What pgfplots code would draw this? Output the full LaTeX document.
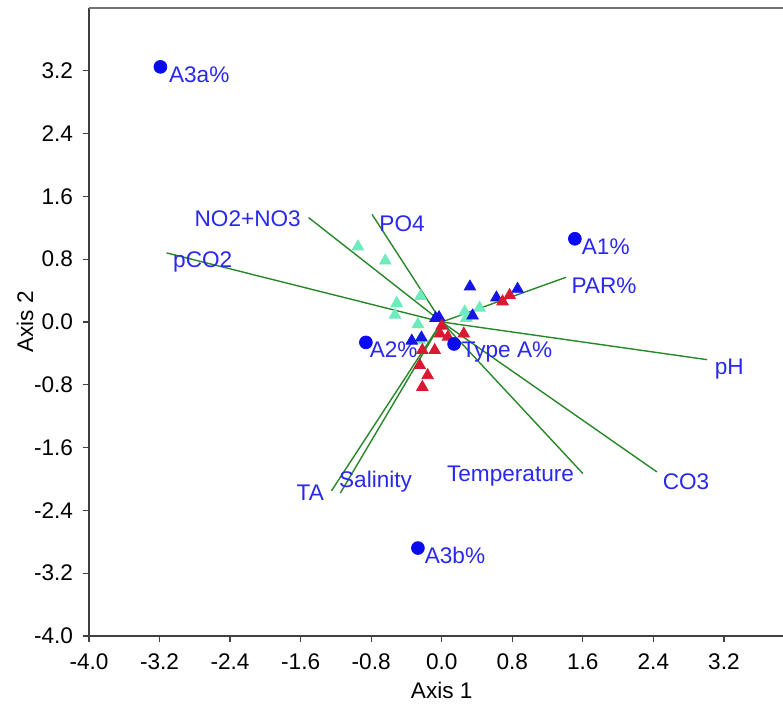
\documentclass[border=0pt]{standalone}
\usepackage{fontspec}
\setmainfont{Liberation Sans}
\usepackage{pgfplots}
\pgfplotsset{compat=1.18}
\definecolor{aquaT}{RGB}{110,235,190}
\definecolor{redT}{RGB}{215,25,50}
\definecolor{blueT}{RGB}{20,20,230}
\definecolor{blueC}{RGB}{10,10,240}
\definecolor{txtB}{RGB}{40,40,240}
\definecolor{lineG}{RGB}{40,135,40}
\begin{document}
\fontsize{11.3}{13.5}\selectfont
\begin{tikzpicture}
\begin{axis}[
  scale only axis,
  width=347pt, height=314pt,
  xmin=-4, xmax=3.87, ymin=-4, ymax=4,
  axis lines*=left,
  axis line style={-, line width=0.7pt, color=black!75},
  xtick={-4,-3.2,-2.4,-1.6,-0.8,0,0.8,1.6,2.4,3.2},
  ytick={-4,-3.2,-2.4,-1.6,-0.8,0,0.8,1.6,2.4,3.2},
  tick align=outside,
  major tick length=3pt,
  tick style={line width=0.6pt, color=black!75},
  xticklabel style={font=\fontsize{11.3}{13}\selectfont, yshift=-2pt},
  yticklabel style={font=\fontsize{11.3}{13}\selectfont, xshift=-1pt},
  /pgf/number format/assume math mode=true,
  /pgf/number format/.cd, fixed, fixed zerofill, precision=1,
  /pgfplots/.cd,
  xlabel={Axis 1}, ylabel={Axis 2},
  xlabel style={at={(axis cs:0,-4)}, anchor=center, yshift=-27pt, font=\fontsize{11.3}{13}\selectfont},
  ylabel style={at={(axis description cs:0,0.5)}, anchor=center, xshift=0pt, yshift=32pt, font=\fontsize{11.3}{13}\selectfont},
  clip=false,
]
\coordinate (sw) at (rel axis cs:0,0);
\coordinate (ne) at (rel axis cs:1,1);
\draw[line width=1pt, color=black!55] (rel axis cs:0,1) -- (rel axis cs:1,1);
% triangles
\addplot[only marks, mark=triangle*, mark size=3.3pt, color=aquaT] coordinates {
(-0.95,0.96) (-0.64,0.78) (-0.51,0.24) (-0.53,0.09) (-0.24,0.33) (-0.27,-0.03) (-0.25,-0.23) (0.26,0.13) (0.43,0.18) (0.28,0.05)};
\addplot[only marks, mark=triangle*, mark size=3.3pt, color=blueT] coordinates {
(0.32,0.45) (0.62,0.31) (0.86,0.42) (0.35,0.08) (-0.07,0.05) (-0.03,0.06) (-0.23,-0.20) (-0.34,-0.24)};
\addplot[only marks, mark=triangle*, mark size=3.3pt, color=redT] coordinates {
(0.69,0.26) (0.77,0.34) (0.0,-0.05) (-0.02,-0.15) (0.07,-0.19) (0.25,-0.15) (-0.08,-0.36) (-0.22,-0.36) (-0.25,-0.55) (-0.16,-0.68) (-0.22,-0.83)};
% vectors
\addplot[lineG, line width=0.7pt] coordinates {(0,0) (-3.12,0.88)};
\addplot[lineG, line width=0.7pt] coordinates {(0,0) (-1.51,1.33)};
\addplot[lineG, line width=0.7pt] coordinates {(0,0) (-0.79,1.37)};
\addplot[lineG, line width=0.7pt] coordinates {(0,0) (1.41,0.57)};
\addplot[lineG, line width=0.7pt] coordinates {(0,0) (3.01,-0.48)};
\addplot[lineG, line width=0.7pt] coordinates {(0,0) (2.44,-1.91)};
\addplot[lineG, line width=0.7pt] coordinates {(0,0) (1.60,-1.93)};
\addplot[lineG, line width=0.7pt] coordinates {(0,0) (-1.25,-2.15)};
\addplot[lineG, line width=0.7pt] coordinates {(0,0) (-1.15,-2.18)};
% circles
\addplot[only marks, mark=*, mark size=3.2pt, color=blueC] coordinates {
(-3.19,3.25) (1.51,1.06) (-0.86,-0.26) (0.14,-0.28) (-0.27,-2.88)};
% labels
\begin{scope}[every node/.style={text=txtB, inner sep=0pt, anchor=center}]
\node at (axis cs:-2.75,3.15) {A3a\%};
\node at (axis cs:1.86,0.96) {A1\%};
\node at (axis cs:-0.545,-0.357) {A2\%};
\node at (axis cs:0.74,-0.38) {Type A\%};
\node at (axis cs:0.15,-2.97) {A3b\%};
\node at (axis cs:-2.71,0.77) {pCO2};
\node at (axis cs:-2.20,1.31) {NO2+NO3};
\node at (axis cs:-0.45,1.25) {PO4};
\node at (axis cs:1.84,0.46) {PAR\%};
\node at (axis cs:3.26,-0.60) {pH};
\node at (axis cs:2.77,-2.03) {CO3};
\node at (axis cs:0.78,-1.96) {Temperature};
\node at (axis cs:-1.49,-2.17) {TA};
\node at (axis cs:-0.75,-2.03) {Salinity};
\end{scope}
\end{axis}
\pgfresetboundingbox
\path ([shift={(-44.5pt,-35.5pt)}]sw) rectangle ([shift={(0pt,4pt)}]ne);
\end{tikzpicture}
\end{document}
